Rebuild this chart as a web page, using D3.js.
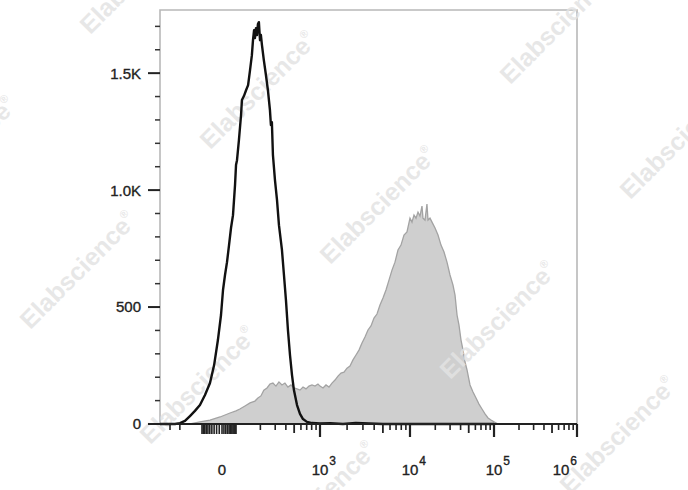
<!DOCTYPE html>
<html>
<head>
<meta charset="utf-8">
<script src="https://cdn.jsdelivr.net/npm/d3@7"></script>
<style>
  html, body { margin: 0; padding: 0; background: #fff; }
  svg { display: block; }
  text { font-family: "Liberation Sans", Arial, sans-serif; }
</style>
</head>
<body>
<svg id="chart" width="688" height="490"></svg>
<script>
// ---------- DATA ----------
// Control (unstained / isotype) histogram: [fluorescence, count]
const controlHist = [
  [-2000,0],[-704,0],[-495,4],[-348,13],[-244,34],[-170,56],[-117,81],[-78,124],
  [-49,175],[-30,252],[-15,359],[-3.6,466],[5.2,573],[15.7,637],[26.9,692],
  [39.4,765],[53.3,838],[69.5,893],[89,1021],[100,1107],[103,1128],[109,1214],
  [116,1321],[119,1385],[126,1402],[134,1427],[142,1449],[150,1513],[158,1577],
  [163,1641],[168,1684],[172,1650],[177,1692],[182,1663],[187,1710],[192,1718],
  [198,1641],[203,1663],[209,1620],[220,1556],[233,1492],[246,1427],[260,1342],
  [267,1278],[274,1291],[282,1150],[298,1043],[315,957],[332,850],[360,744],
  [380,637],[401,530],[423,402],[447,295],[472,209],[497,145],[540,81],[585,43],
  [634,21],[705,9],[807,4],[1000,2],[1300,3],[1800,0],[2500,4],[3500,2],
  [5000,0],[100000,0]
];
// Stained sample histogram: [fluorescence, count]
const sampleHist = [
  [-2000,0],[-244,0],[-117,9],[-49,17],[-7.2,30],[46,47],[100,56],[112,64],
  [130,77],[150,90],[172,98],[187,111],[203,120],[220,145],[240,154],[260,171],
  [282,175],[306,162],[332,180],[360,167],[390,175],[423,158],[459,167],[497,154],
  [540,150],[585,145],[634,158],[687,150],[744,162],[807,167],[875,162],[947,171],
  [1000,162],[1080,154],[1166,167],[1259,158],[1359,175],[1468,188],[1585,205],
  [1711,218],[1848,222],[1995,239],[2154,248],[2326,274],[2512,295],[2712,316],
  [2929,346],[3162,372],[3415,402],[3687,419],[3981,453],[4299,470],[4642,509],
  [5012,539],[5412,573],[5843,615],[6310,658],[6813,692],[7356,744],[7943,765],
  [8577,808],[9261,821],[10000,880],[10563,863],[11160,893],[11789,880],
  [12451,906],[13150,889],[13891,932],[14279,880],[15087,872],[15922,940],
  [16379,872],[17298,880],[18281,863],[19861,838],[21544,808],[23383,765],
  [25410,735],[27560,692],[29930,637],[32500,594],[34350,551],[36300,466],
  [38300,423],[40480,359],[42760,316],[45190,265],[47730,231],[51800,167],
  [56230,137],[61050,111],[66240,85],[71940,64],[78130,43],[84860,26],
  [92050,17],[100000,9],[111700,0],[1000000,0]
];
const yTickValues = [0, 500, 1000, 1500];
const yTickLabels = ["0", "500", "1.0K", "1.5K"];
const yMinorTicks = [100,200,300,400,600,700,800,900,1100,1200,1300,1400,1600,1700];
const xMajorTicks = [0, 1e3, 1e4, 1e5, 1e6];
const xMajorLabels = [["0",""],["10","3"],["10","4"],["10","5"],["10","6"]];
const xDenseTicks = [-100,-90,-80,-70,-60,-50,-40,-30,-20,-10,10,20,30,40,50,60,70,80,90,100];
const xMinorTicks = [-1000,-500,200,300,400,600,700,800,900,
  2e3,3e3,4e3,6e3,7e3,8e3,9e3,2e4,3e4,4e4,6e4,7e4,8e4,9e4,2e5,3e5,4e5,6e5,7e5,8e5,9e5];
const xMidTicks = [500, 5e3, 5e4, 5e5];
const yMax = 1770;

// ---------- LAYOUT ----------
const svg = d3.select("#chart");
const L = 160, R = 577, TOP = 10, B = 424, W = R - L;

// biexponential-like display transform (asinh), piecewise fitted to the axis
const tf = v => Math.asinh(v / 50);
const bpVals = [-2000, -1000, -100, 0, 100, 1e3, 1e4, 1e5, 1e6];
const bpFrac = [0, 0.024, 0.1007, 0.1487, 0.1823, 0.3837, 0.5995, 0.801, 1];
const xs = d3.scaleLinear().domain(bpVals.map(tf)).range(bpFrac.map(f => L + f * W)).clamp(true);
const x = v => xs(tf(v));
const y = d3.scaleLinear().domain([0, yMax]).range([B, TOP]);

// frame
svg.append("path")
  .attr("d", `M${L},${B} L${L},${TOP} L${R},${TOP} L${R},${B}`)
  .attr("fill", "none").attr("stroke", "#b8b8b8").attr("stroke-width", 1.6);

// sample (filled)
const area = d3.area().x(d => x(d[0])).y0(y(0)).y1(d => y(d[1]));
const line = d3.line().x(d => x(d[0])).y(d => y(d[1]));
svg.append("path").datum(sampleHist).attr("d", area).attr("fill", "#cfcfcf");
svg.append("path").datum(sampleHist).attr("d", line)
  .attr("fill", "none").attr("stroke", "#a3a3a3").attr("stroke-width", 1.3);

// watermark
const wm = svg.append("g");
for (let a = -3; a <= 4; a++) {
  for (let b = -3; b <= 3; b++) {
    const cx = 258 + 120 * a - 180 * b, cy = 90 + 115 * a + 180 * b;
    if (cx < -120 || cx > 810 || cy < -120 || cy > 610) continue;
    const t = wm.append("text")
      .attr("transform", `translate(${cx},${cy}) rotate(-45)`)
      .attr("text-anchor", "middle").attr("dy", "0.35em")
      .attr("font-size", 25).attr("font-weight", "bold")
      .attr("fill", "#e3e3e3").attr("fill-opacity", 0.85);
    t.append("tspan").text("Elabscience");
    t.append("tspan").attr("font-size", 11).attr("dy", "-1.1em").text("®");
  }
}

// control (black line)
svg.append("path").datum(controlHist).attr("d", line)
  .attr("fill", "none").attr("stroke", "#111").attr("stroke-width", 2.4)
  .attr("stroke-linejoin", "round");

// y axis ticks
const gy = svg.append("g");
gy.selectAll("line.maj").data(yTickValues).join("line")
  .attr("x1", L - 12).attr("x2", L).attr("y1", d => y(d)).attr("y2", d => y(d))
  .attr("stroke", "#222").attr("stroke-width", 2);
gy.selectAll("line.min").data(yMinorTicks).enter().append("line")
  .attr("x1", L - 5).attr("x2", L).attr("y1", d => y(d)).attr("y2", d => y(d))
  .attr("stroke", "#333").attr("stroke-width", 1.5);
gy.selectAll("text").data(yTickValues).join("text")
  .attr("x", 141).attr("y", d => y(d)).attr("dy", "0.36em")
  .attr("text-anchor", "end").attr("font-size", 15).attr("fill", "#222")
  .attr("stroke", "#222").attr("stroke-width", 0.35)
  .text((d, i) => yTickLabels[i]);

// x axis
const gx = svg.append("g");
gx.append("line").attr("x1", L).attr("x2", R).attr("y1", B).attr("y2", B)
  .attr("stroke", "#222").attr("stroke-width", 1.8);
const tickSet = [
  [xMajorTicks.slice(1), 13, 2.2],
  [xMidTicks, 9, 1.8],
  [xMinorTicks, 6, 1.6],
  [xDenseTicks, 10, 1.6],
  [[0], 10, 1.6]
];
tickSet.forEach(([vals, len, sw]) => {
  gx.append("g").selectAll("line").data(vals).join("line")
    .attr("x1", d => x(d)).attr("x2", d => x(d))
    .attr("y1", B).attr("y2", B + len)
    .attr("stroke", "#222").attr("stroke-width", sw);
});
xMajorTicks.forEach((v, i) => {
  const [base, sup] = xMajorLabels[i];
  const t = gx.append("text").attr("y", 475).attr("font-size", 15).attr("fill", "#222")
    .attr("stroke", "#222").attr("stroke-width", 0.35);
  t.append("tspan").text(base);
  if (sup) t.append("tspan").attr("font-size", 12).attr("dy", -10).attr("dx", 1).text(sup);
  const baseW = base.length * 15 * 0.556;
  const total = t.node().getComputedTextLength();
  let tx = x(v) - baseW / 2;
  if (tx + total > R) tx = R - total - 1;
  t.attr("x", tx);
});
</script>
</body>
</html>
